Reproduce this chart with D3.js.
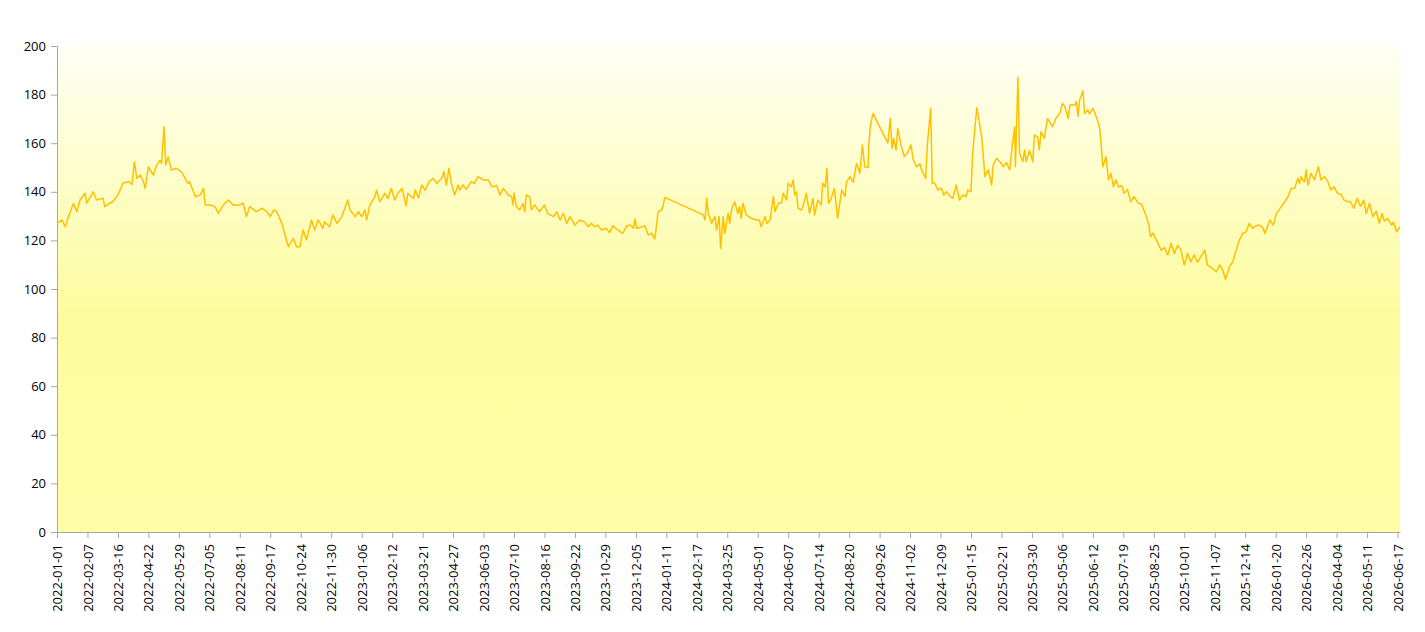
<!DOCTYPE html>
<html>
<head>
<meta charset="utf-8">
<script src="https://cdn.jsdelivr.net/npm/d3@7"></script>
<style>
  body { margin: 0; background: #fff; }
  svg { display: block; font-family: "Open Sans", sans-serif; }
</style>
</head>
<body>
<div id="chart"></div>
<script>
// days since 2022-01-01
const startDate = '2022-01-01'
const days = [
  0,6,10,14,20,24,28,34,36,44,48,56,58,64,68,74,80,87,91,94,97,101,105,107,111,117,121,125,127,130,132,135,139,145,151,159,
  161,168,174,178,180,186,192,196,202,208,214,222,226,230,234,242,249,255,259,263,267,273,281,287,291,295,299,303,309,313,317,323,
  325,331,335,340,346,353,356,362,366,370,374,376,380,386,388,392,398,402,406,410,414,419,424,426,433,435,439,443,447,452,457,461,467,470,473,476,479,483,487,
  489,493,497,503,507,511,518,524,528,534,538,542,548,552,554,555,558,562,566,568,570,574,576,580,586,592,596,603,607,611,615,619,623,629,635,641,645,649,653,
  657,661,667,671,675,681,687,692,696,700,702,704,710,714,718,722,726,728,730,734,736,738,
  785,787,789,791,795,799,801,804,806,809,811,815,
  817,819,823,827,829,831,833,837,843,849,853,855,860,862,866,870,872,876,880,882,886,888,892,894,896,898,900,904,906,910,914,918,920,924,928,930,933,935,937,940,944,948,953,957,959,963,967,971,975,978,981,
  985,986,988,991,1005,1009,1012,1014,1016,1019,1021,1025,1029,1033,1037,1040,1044,1048,1050,1055,1057,1061,1063,1066,1070,1074,1077,1080,1085,1088,1092,1096,1100,1104,1106,1110,1112,1117,1123,1127,1131,1133,1135,1137,1141,1145,
  1149,1153,1157,1160,1163,1164,1167,1169,1173,1175,1177,1181,1185,1187,1191,1193,1195,1199,1203,1209,1213,1218,1221,1224,1228,1230,1236,1238,1240,1242,1246,1248,1252,1254,1258,1262,1266,1268,1270,1274,1277,1280,1283,1286,1289,1293,1296,1300,1304,1308,
  1313,1317,1323,1326,1328,1331,1337,1341,1345,1349,1353,1357,1361,1365,1369,1373,1377,1381,1385,1389,1394,1397,1403,1408,1412,1416,1419,1424,1428,1432,1436,1440,1444,1448,1452,1456,1460,1464,1467,1473,
  1477,1481,1487,1491,1495,1499,1503,1507,1509,1511,1515,1517,1519,1523,1527,1532,1535,1539,1543,1547,1551,1555,1559,1563,1567,1571,1575,1579,1583,1587,1590,1594,1598,1602,1606,1609,1612,1616,1621,1623,1627,1631
]
const values = [
  127,128.4,125.6,129.8,135.3,131.8,136.6,139.4,135.3,140,136.6,137.3,133.9,135.3,136,138.7,143.5,144.2,143,152.4,145.5,146.9,144.2,141.4,150.3,146.9,151,153,151.7,166.8,151,154.4,149,149.6,148.3,143.5,
  144.2,138,138.7,141.4,134.6,134.6,133.9,131.1,134.6,136.6,134.6,134.6,135.3,129.8,133.9,131.8,133.2,131.8,129.8,132.5,131.8,127,117.4,120.8,117.4,117.4,124.3,120.2,128.4,124.3,128.4,125,
  127.7,125.6,130.5,127,129.8,136.6,132.5,129.8,131.8,129.8,132.5,128.4,134.6,138,140.7,135.9,139.4,137.3,141.4,136.6,139.4,141.4,134.2,139.4,137.3,140.7,137.5,142.8,140.7,144.2,145.5,143.5,145.5,148.3,142.8,149.7,143.5,138.7,142.8,
  140.7,142.8,141,144.2,143.5,146.2,144.9,144.9,142.1,142.5,138.7,141.4,138.7,138,134.6,139.5,133.9,132.5,135.3,131.8,138.7,138,132.5,134.6,131.8,134.6,131.1,129.8,131.8,128.4,131.1,127,129.8,126.3,128.4,127.5,125.6,127,125.6,
  126.3,124.3,125,123.2,126,124.3,122.9,126,126.3,125,128.7,125,125.5,126,122.2,123,120.6,126,131.8,132.5,133.9,137.7,
  130.5,128.4,137.3,131.1,127,129.8,124.3,129.8,116.7,129.8,122.9,131.1,
  127,132.5,135.9,131.1,133.9,129.1,135.3,130.5,129.1,128.4,128.4,125.6,129.8,127,128.4,138,131.8,135.3,135.5,139.4,136.6,143.5,142.1,144.9,138.7,140,133.2,132.5,134,139.4,131.1,137.3,130.5,136.6,134.6,143.5,142,149.7,135.3,137,141.4,129.1,140.7,138,144.2,146.2,144,151.7,147.6,159.3,150.3,
  150,160,167.5,172.3,162.7,160,170.2,157.9,162,157.2,166.1,159.3,154.5,156,159.3,153,150.3,151.5,149,145.5,159.3,174.4,143.5,143.5,140.7,141.5,138.7,140,138,137.3,142.8,136.6,138.7,138,140.7,140,155.8,174.6,162.7,146.2,149,146,142.8,151,153.8,152.4,
  150.3,152,149,158.6,166.8,150.3,187.1,155.8,152.4,157.2,152.5,157,152.4,163.4,162.5,157.2,164.7,162,170.2,166.8,170.2,172.3,176.4,175,170.2,175.7,175.7,177.1,171,177.8,181.6,172.3,173.7,172,174.4,171,166.8,160,150.3,154.4,144.9,147.6,142.1,145,142,142.5,139.4,141,135.9,138,
  135.3,135,129.8,126.3,121.5,123,118.8,116,117,114,118.8,114.6,118,116,109.9,114.6,111.2,114,111,113.3,116,109.9,108.5,107.1,109.9,107.5,104,109.2,111.2,116,120.2,122.9,123.5,127,125,126,126.3,125.5,122.9,128.4,
  126.3,131.1,133.9,135.9,138,141.4,141.5,145.5,143.5,146.2,144,149,142.8,147.6,144.9,150.3,144.9,146.2,144.5,140.7,142.1,139.4,139,136.6,136,135.9,133.2,137.3,134,136.6,131.1,135.3,129.8,132,127,131.1,128,129,126.3,127.5,123.6,125.6
]
const yTicks = [0, 20, 40, 60, 80, 100, 120, 140, 160, 180, 200]
const tickStepDays = 37
const tickCount = 45

const width = 1425
const height = 632
const plotLeft = 57, plotRight = 1400, plotTop = 46, plotBottom = 532

const parse = d3.utcParse('%Y-%m-%d')
const start = parse(startDate)
const data = days.map((d, i) => ({ date: d3.utcDay.offset(start, d), value: values[i] }))
const xTicks = d3.range(tickCount).map((i) => d3.utcDay.offset(start, i * tickStepDays))

const svg = d3.select('#chart').append('svg').attr('width', width).attr('height', height)

const defs = svg.append('defs')
const grad = defs.append('linearGradient').attr('id', 'bg').attr('x1', 0).attr('y1', 0).attr('x2', 0).attr('y2', 1)
grad.append('stop').attr('offset', '0%').attr('stop-color', '#fffff4')
grad.append('stop').attr('offset', '55%').attr('stop-color', '#fcfc9e')
grad.append('stop').attr('offset', '100%').attr('stop-color', '#fdfda6')

const xScale = d3.scaleUtc().domain([start, data[data.length - 1].date]).range([plotLeft, plotRight])
const yScale = d3.scaleLinear().domain([0, 200]).range([plotBottom, plotTop])

svg.append('rect').attr('x', plotLeft).attr('y', plotTop).attr('width', plotRight - plotLeft).attr('height', plotBottom - plotTop).attr('fill', 'url(#bg)')

const yAxis = d3.axisLeft(yScale).tickValues(yTicks).tickSize(6).tickPadding(5).tickSizeOuter(0)
const gy = svg.append('g').attr('transform', `translate(${plotLeft},0)`).call(yAxis)
gy.selectAll('line, path').attr('stroke', '#a6a6a6')
gy.selectAll('text').attr('font-size', 13).attr('fill', '#000').attr('font-family', '"Open Sans", sans-serif')

const xAxis = d3.axisBottom(xScale).tickValues(xTicks).tickFormat(d3.utcFormat('%Y-%m-%d')).tickSize(6).tickSizeOuter(0)
const gx = svg.append('g').attr('transform', `translate(0,${plotBottom})`).call(xAxis)
gx.selectAll('line, path').attr('stroke', '#a6a6a6')
gx.selectAll('text')
  .attr('font-size', 13).attr('fill', '#000').attr('font-family', '"Open Sans", sans-serif')
  .attr('text-anchor', 'end')
  .attr('transform', 'rotate(-90)')
  .attr('x', -12).attr('y', 0).attr('dy', '0.35em')

const line = d3.line().x((d) => xScale(d.date)).y((d) => yScale(d.value))
svg.append('path').datum(data)
  .attr('d', line)
  .attr('fill', 'none')
  .attr('stroke', '#ffc000')
  .attr('stroke-width', 1.5)
  .attr('stroke-linejoin', 'round')
</script>
</body>
</html>
